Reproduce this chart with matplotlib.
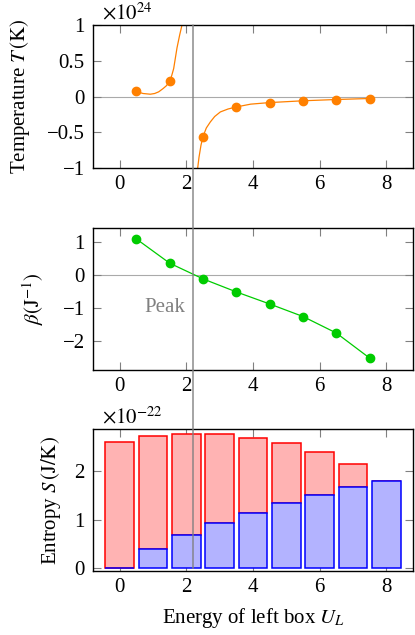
import matplotlib
matplotlib.use("Agg")
import matplotlib.pyplot as plt
from matplotlib.ticker import FuncFormatter
from matplotlib.patches import ConnectionPatch

plt.rcParams["font.family"] = ["Liberation Serif", "DejaVu Serif"]
plt.rcParams["mathtext.fontset"] = "stix"
plt.rcParams["font.size"] = 15

# --- data ---
U_mid = [0.5, 1.5, 2.5, 3.5, 4.5, 5.5, 6.5, 7.5]
T_pts = [0.07, 0.21, -0.56, -0.146, -0.085, -0.06, -0.042, -0.028]  # x 1e24 K
beta_pts = [1.09, 0.355, -0.12, -0.515, -0.88, -1.26, -1.76, -2.52]

# temperature curve (two branches around the peak)
T_curve_left_U = [0.5, 0.7, 0.92, 1.05, 1.17, 1.3, 1.4, 1.5, 1.56, 1.62, 1.72, 1.8, 1.87, 1.9]
T_curve_left = [0.07, 0.042, 0.032, 0.042, 0.065, 0.11, 0.15, 0.21, 0.29, 0.39, 0.68, 0.86, 1.0, 1.08]
T_curve_right_U = [2.32, 2.38, 2.44, 2.5, 2.6, 2.72, 2.85, 3.02, 3.25, 3.5, 3.93, 4.5, 5.5, 6.5, 7.5]
T_curve_right = [-1.08, -0.85, -0.68, -0.56, -0.44, -0.356, -0.28, -0.216, -0.175, -0.146,
                 -0.107, -0.085, -0.06, -0.042, -0.028]

U_bar = [0, 1, 2, 3, 4, 5, 6, 7, 8]
S_left = [0.0, 0.39, 0.68, 0.93, 1.15, 1.34, 1.51, 1.67, 1.81]   # x 1e-22 J/K
S_right = [2.60, 2.35, 2.10, 1.85, 1.55, 1.24, 0.90, 0.49, 0.0]

U_peak = 2.2

orange = "#ff8000"
green = "#00cc00"
tick_gray = "#808080"
fs = 15


def fmt(v, pos):
    s = f"{v:g}"
    return s.replace("-", "\u2212")


fig = plt.figure(figsize=(4.15, 6.35), dpi=100)
W = 415.0
H = 635.0


def make_ax(top_px, bottom_px):
    return fig.add_axes([93 / W, 1 - bottom_px / H, 320 / W, (bottom_px - top_px) / H])


ax1 = make_ax(25, 168)
ax2 = make_ax(227.7, 370)
ax3 = make_ax(429.3, 571.3)

for ax in (ax1, ax2, ax3):
    ax.set_xlim(-0.8, 8.8)
    ax.set_xticks([0, 2, 4, 6, 8])
    ax.tick_params(direction="in", length=6, width=0.8, color=tick_gray,
                   top=True, right=True, pad=5, labelsize=fs)
    ax.tick_params(axis="y", pad=6)
    ax.xaxis.set_major_formatter(FuncFormatter(fmt))
    ax.yaxis.set_major_formatter(FuncFormatter(fmt))
    for sp in ax.spines.values():
        sp.set_linewidth(1.0)

# top: temperature
ax1.axhline(0, color="#aaaaaa", lw=0.8, zorder=1)
ax1.plot(T_curve_left_U, T_curve_left, color=orange, lw=0.9, zorder=2)
ax1.plot(T_curve_right_U, T_curve_right, color=orange, lw=0.9, zorder=2)
ax1.plot(U_mid, T_pts, "o", color=orange, ms=6, zorder=3)
ax1.set_ylim(-1, 1)
ax1.set_yticks([-1, -0.5, 0, 0.5, 1])
ax1.set_ylabel(r"Temperature $T\,(\mathrm{K})$", fontsize=fs)
ax1.yaxis.set_label_coords(-0.19, 0.5)
ax1.text(0.028, 1.004, r"$\times 10^{24}$", transform=ax1.transAxes,
         ha="left", va="bottom", fontsize=fs)

# middle: beta
ax2.axhline(0, color="#aaaaaa", lw=0.8, zorder=1)
ax2.plot(U_mid, beta_pts, "-o", color=green, lw=0.9, ms=6, zorder=3)
ax2.set_ylim(-2.88, 1.43)
ax2.set_yticks([-2, -1, 0, 1])
ax2.set_ylabel(r"$\beta(\mathrm{J}^{-1})$", fontsize=fs)
ax2.yaxis.set_label_coords(-0.148, 0.5)
ax2.text(1.35, -1.0, "Peak", color=tick_gray, ha="center", va="center", fontsize=fs)

# bottom: entropy bars
ax3.bar(U_bar, S_right, bottom=S_left, width=0.86, color="#ffb3b3",
        edgecolor="red", lw=1.1, zorder=2)
ax3.bar(U_bar, S_left, width=0.86, color="#b3b3ff",
        edgecolor="blue", lw=1.1, zorder=3)
ax3.set_ylim(-0.06, 2.87)
ax3.set_yticks([0, 1, 2])
ax3.set_ylabel(r"Entropy $S\,(\mathrm{J/K})$", fontsize=fs)
ax3.yaxis.set_label_coords(-0.095, 0.5)
ax3.set_xlabel(r"Energy of left box $U_L$", fontsize=fs, labelpad=6)
ax3.text(0.028, 1.01, r"$\times 10^{-22}$", transform=ax3.transAxes,
         ha="left", va="bottom", fontsize=fs)

# vertical peak marker spanning all three panels
con = ConnectionPatch(xyA=(U_peak, 1), coordsA=ax1.transData,
                      xyB=(U_peak, 0), coordsB=ax3.transData,
                      color=tick_gray, lw=1.0, zorder=10)
fig.add_artist(con)

fig.savefig("out.png", dpi=100)
